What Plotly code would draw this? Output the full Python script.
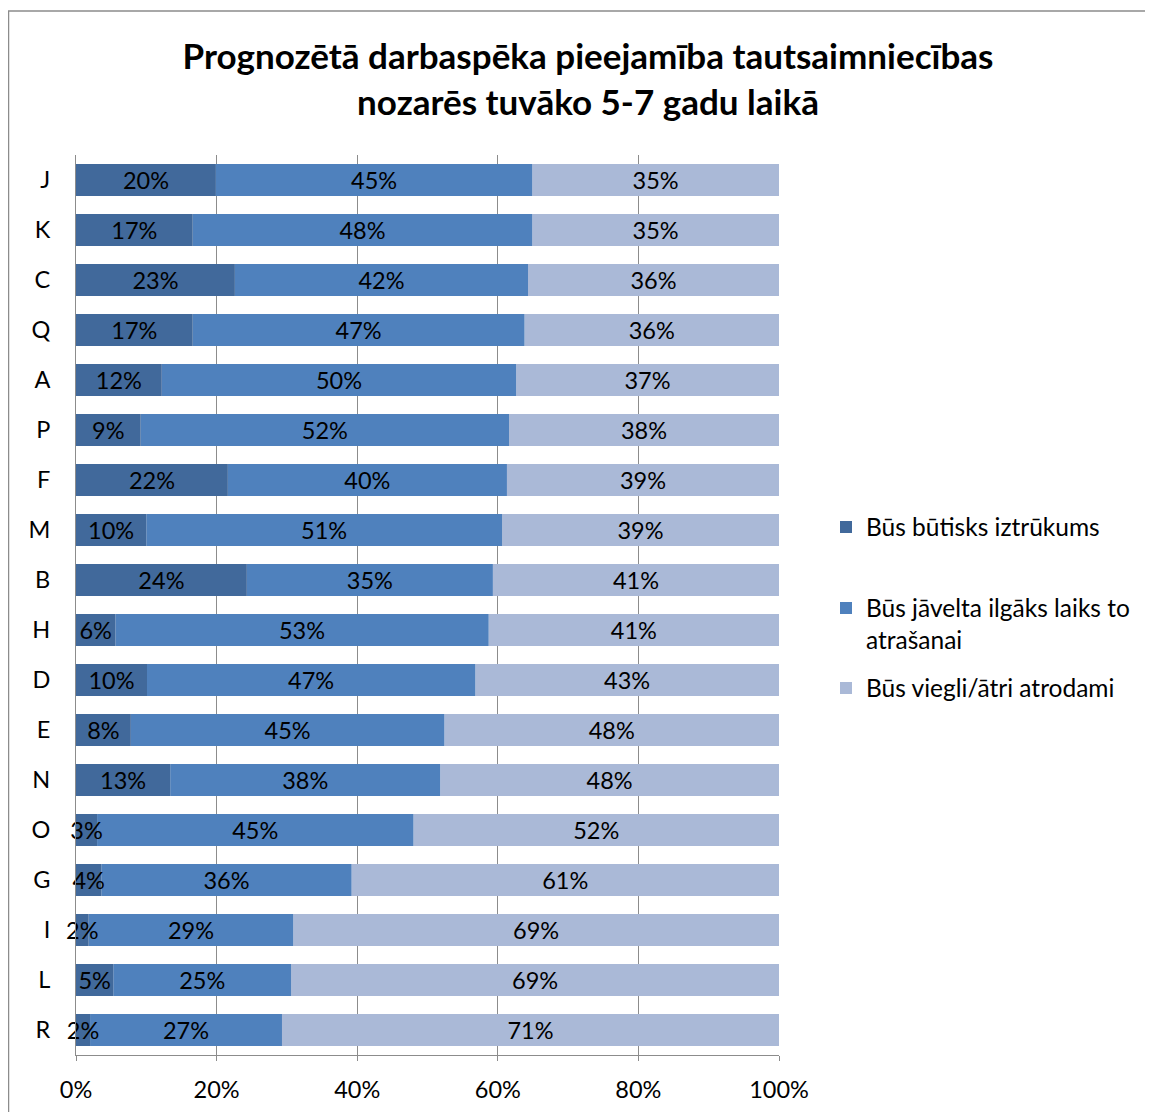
import plotly.graph_objects as go

categories = ["J", "K", "C", "Q", "A", "P", "F", "M", "B", "H", "D", "E", "N", "O", "G", "I", "L", "R"]
series_names = ["Būs būtisks iztrūkums", "Būs jāvelta ilgāks laiks to<br>atrašanai", "Būs viegli/ātri atrodami"]
shortage = [19.9, 16.6, 22.6, 16.6, 12.2, 9.2, 21.6, 10.0, 24.3, 5.6, 10.1, 7.8, 13.4, 3.0, 3.6, 1.8, 5.3, 2.0]
longer = [45.0, 48.3, 41.7, 47.2, 50.4, 52.4, 39.7, 50.6, 35.0, 53.1, 46.7, 44.6, 38.4, 45.0, 35.6, 29.1, 25.3, 27.3]
easy = [35.1, 35.1, 35.7, 36.2, 37.4, 38.4, 38.7, 39.4, 40.7, 41.3, 43.2, 47.6, 48.2, 52.0, 60.8, 69.1, 69.4, 70.7]
colors = ["#41699B", "#4F81BD", "#AAB9D7"]
x_ticks = [0, 20, 40, 60, 80, 100]
x_ticklabels = ["0%", "20%", "40%", "60%", "80%", "100%"]

FONT = "Lato"
OFF = 8  # page body margin
W, H = 1153 - OFF, 1112 - OFF
L, R, T, B = 76 - OFF, 779 - OFF, 155 - OFF, 1055 - OFF


def px_x(px):
    return (px - OFF - L) / (R - L)


def px_y(py):
    return (B - (py - OFF)) / (B - T)


series = [shortage, longer, easy]
bases = []
running = [0.0] * len(categories)
for vals in series:
    bases.append([round(v, 6) for v in running])
    running = [round(a + b, 6) for a, b in zip(running, vals)]

legend_keys = ["legend", "legend2", "legend3"]
fig = go.Figure()
# draw right-most segments first so the small left labels stay on top
for i in [2, 1, 0]:
    fig.add_trace(go.Bar(
        y=categories, x=series[i], base=bases[i], name=series_names[i], orientation="h",
        marker=dict(color=colors[i], line=dict(width=0)),
        texttemplate="%{x:.0f}%",
        textposition="inside", insidetextanchor="middle",
        constraintext="none", textangle=0, cliponaxis=False,
        textfont=dict(family=FONT, size=23.5, color="black"),
        hoverinfo="skip", showlegend=True,
        legend=legend_keys[i],
    ))

# chart frame (left and top border)
fig.add_shape(type="path", xref="paper", yref="paper",
              path=f"M {px_x(8.6)} {px_y(1125)} L {px_x(8.6)} {px_y(11)} L {px_x(1170)} {px_y(11)}",
              line=dict(color="#8C8C8C", width=1.3), layer="below")

leg_font = dict(family=FONT, size=24.5, color="black")
leg_x = px_x(826)
fig.update_layout(
    width=W, height=H,
    margin=dict(l=L, r=W - R, t=T, b=H - B, pad=0, autoexpand=False),
    paper_bgcolor="white", plot_bgcolor="white",
    barmode="overlay", bargap=0.36, showlegend=True,
    title=dict(text="<b>Prognozētā darbaspēka pieejamība tautsaimniecības<br>nozarēs tuvāko 5-7 gadu laikā</b>",
               x=(588 - OFF) / W, xanchor="center", y=1 - (69 - OFF) / H, yanchor="middle",
               font=dict(family=FONT, size=35, color="black")),
    font=dict(family=FONT, color="black"),
    legend=dict(x=leg_x, y=px_y(527), xanchor="left", yanchor="middle",
                font=leg_font, itemwidth=30, bgcolor="rgba(0,0,0,0)", visible=True),
    legend2=dict(x=leg_x, y=px_y(624), xanchor="left", yanchor="middle", valign="top",
                 font=leg_font, itemwidth=30, bgcolor="rgba(0,0,0,0)", visible=True),
    legend3=dict(x=leg_x, y=px_y(688), xanchor="left", yanchor="middle",
                 font=leg_font, itemwidth=30, bgcolor="rgba(0,0,0,0)", visible=True),
    xaxis=dict(range=[0, 100.0001], tickvals=x_ticks, ticktext=x_ticklabels,
               showgrid=True, gridcolor="#8C8C8C", gridwidth=1,
               showline=True, linecolor="#8C8C8C", linewidth=1,
               ticks="outside", ticklen=5, tickcolor="#8C8C8C",
               tickfont=dict(family=FONT, size=23.5, color="black"),
               ticklabelstandoff=9, zeroline=False, fixedrange=True, automargin=False),
    yaxis=dict(autorange="reversed", showline=True, linecolor="#8C8C8C", linewidth=1,
               ticks="", tickfont=dict(family=FONT, size=23.5, color="black"),
               ticklabelstandoff=20, showgrid=False, fixedrange=True, automargin=False),
)

fig.write_html("out.html")
